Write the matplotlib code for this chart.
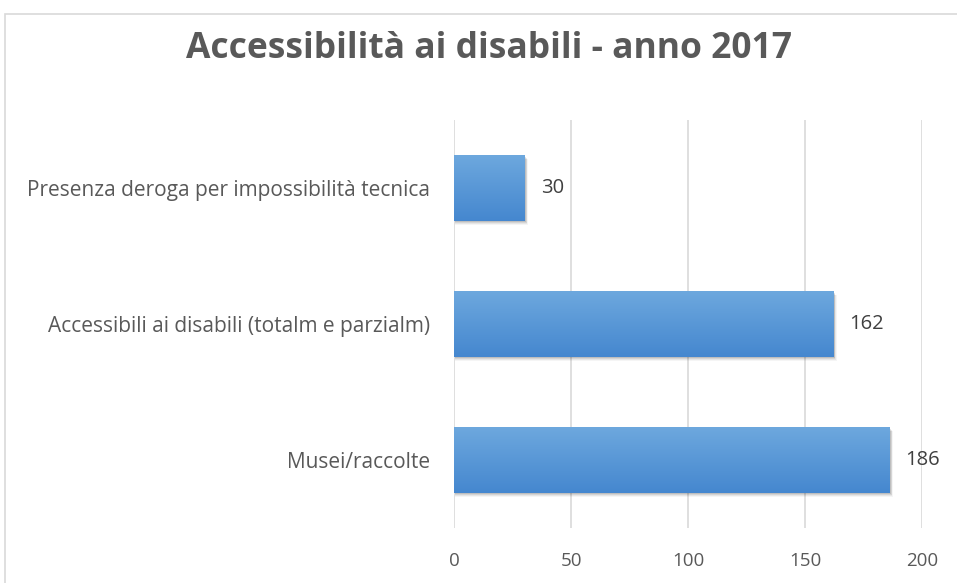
import numpy as np
import matplotlib.pyplot as plt
from matplotlib.patches import Rectangle
from matplotlib.colors import LinearSegmentedColormap

categories = ["Musei/raccolte",
              "Accessibili ai disabili (totalm e parzialm)",
              "Presenza deroga per impossibilità tecnica"]
values = [186, 162, 30]
xticks = [0, 50, 100, 150, 200]

plt.rcParams['font.family'] = ['Open Sans', 'DejaVu Sans']

fig = plt.figure(figsize=(9.57, 5.83), dpi=100)
# chart frame
fig.patches.append(Rectangle((5 / 957, -0.1), 1.2, 1 - 14 / 583 + 0.1,
                             transform=fig.transFigure, fill=False,
                             edgecolor="#d9d9d9", linewidth=1.2))

ax = fig.add_axes([454 / 957, 55 / 583, 468 / 957, 408 / 583])
ax.set_xlim(0, 200)
ax.set_ylim(-0.5, 2.5)

cmap = LinearSegmentedColormap.from_list("bar", ["#4587cf", "#6da8de"])
grad = np.linspace(0, 1, 100).reshape(-1, 1)
h = 0.48
for i, v in enumerate(values):
    # soft shadow
    for k, a in enumerate([0.10, 0.08, 0.06, 0.04]):
        off = 0.6 + k * 0.6
        ax.add_patch(Rectangle((0.4, i - h / 2 - 0.012 - k * 0.006), v + off * 0.5, h,
                               facecolor="black", alpha=a, edgecolor="none", zorder=2))
    bar = ax.barh(i, v, height=h, color="#5597d6", zorder=3)[0]
    im = ax.imshow(grad, extent=(0, v, i - h / 2, i + h / 2), cmap=cmap,
                   aspect="auto", origin="lower", zorder=3.5)
    im.set_clip_path(bar)
    ax.text(v + 7, i, str(v), va="center", ha="left", fontsize=14.5, color="#404040")

ax.set_yticks(range(len(categories)))
ax.set_yticklabels(categories, fontsize=15, color="#595959")
ax.set_xticks(xticks)
ax.set_xticklabels([str(t) for t in xticks], fontsize=13.5, color="#595959")
ax.tick_params(axis="both", length=0)
ax.tick_params(axis="y", pad=17)
ax.tick_params(axis="x", pad=17)
ax.grid(axis="x", color="#d9d9d9", linewidth=1.2, zorder=0)
ax.set_axisbelow(True)
for s in ax.spines.values():
    s.set_visible(False)

fig.text(489 / 957, 1 - 49 / 583, "Accessibilità ai disabili - anno 2017", ha="center", va="center",
         fontsize=25.5, fontweight="bold", color="#595959")

fig.savefig("out.png", dpi=100)
